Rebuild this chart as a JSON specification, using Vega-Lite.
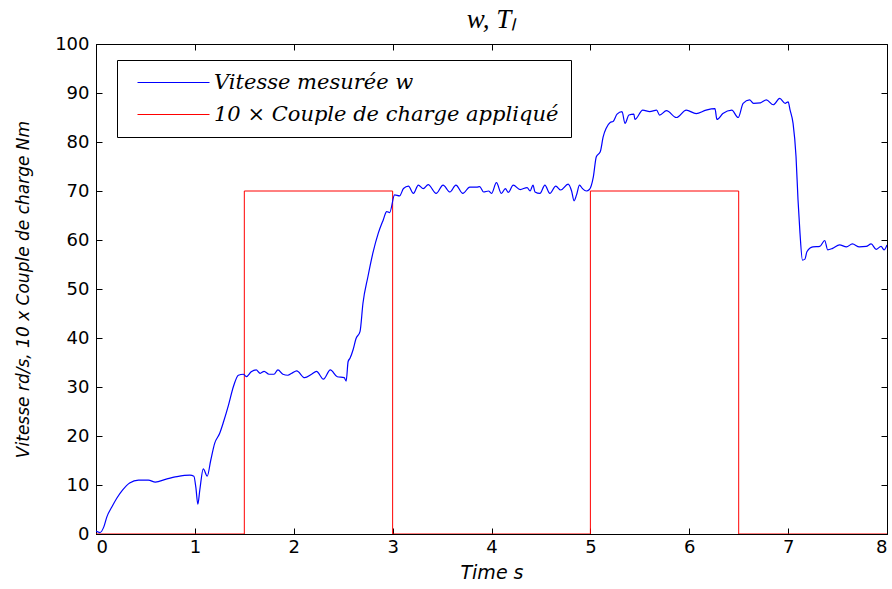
{
  "$schema": "https://vega.github.io/schema/vega-lite/v6.json",
  "width": 791,
  "height": 490,
  "autosize": {"type": "none"},
  "padding": {"left": 96, "top": 44, "right": 5, "bottom": 55},
  "background": "white",
  "title": {"text": "w,   Tₗ", "font": "Liberation Serif", "fontStyle": "italic", "fontWeight": "normal", "fontSize": 27, "color": "black", "anchor": "middle", "offset": 1},
  "config": {
    "view": {"stroke": "black", "strokeWidth": 1},
    "axis": {"domainColor": "black", "tickColor": "black", "labelColor": "black", "titleColor": "black", "grid": false, "labelFont": "DejaVu Sans", "labelFontSize": 18, "titleFont": "DejaVu Sans", "titleFontSize": 17, "titleFontStyle": "italic", "titleFontWeight": "normal", "tickSize": -6, "domainWidth": 1}
  },
  "datasets": {
    "w": [
      {"t":0.00,"v":0.6},{"t":0.04,"v":0.3},{"t":0.08,"v":1.5},{"t":0.11,"v":3.5},{"t":0.16,"v":5.5},{"t":0.21,"v":7.3},{"t":0.27,"v":9.0},{"t":0.34,"v":10.4},{"t":0.43,"v":11.0},{"t":0.53,"v":11.0},{"t":0.60,"v":10.6},{"t":0.71,"v":11.2},{"t":0.82,"v":11.7},{"t":0.95,"v":12.0},{"t":0.99,"v":11.8},{"t":1.01,"v":9.5},{"t":1.03,"v":6.1},{"t":1.05,"v":9.0},{"t":1.085,"v":13.3},{"t":1.125,"v":11.8},{"t":1.16,"v":15.0},{"t":1.20,"v":18.5},{"t":1.25,"v":20.5},{"t":1.29,"v":22.9},{"t":1.34,"v":26.3},{"t":1.39,"v":30.1},{"t":1.44,"v":32.4},{"t":1.49,"v":32.6},{"t":1.52,"v":32.1},{"t":1.57,"v":33.1},{"t":1.62,"v":33.5},{"t":1.66,"v":32.8},{"t":1.70,"v":33.2},{"t":1.75,"v":32.6},{"t":1.80,"v":32.6},{"t":1.84,"v":33.5},{"t":1.89,"v":32.6},{"t":1.94,"v":32.4},{"t":1.98,"v":32.8},{"t":2.03,"v":33.3},{"t":2.11,"v":31.9},{"t":2.18,"v":32.6},{"t":2.23,"v":33.2},{"t":2.30,"v":31.6},{"t":2.37,"v":33.5},{"t":2.44,"v":32.1},{"t":2.51,"v":31.9},{"t":2.53,"v":31.2},{"t":2.55,"v":35.2},{"t":2.57,"v":35.9},{"t":2.60,"v":37.6},{"t":2.63,"v":39.9},{"t":2.67,"v":41.3},{"t":2.70,"v":47.1},{"t":2.75,"v":52.5},{"t":2.80,"v":57.3},{"t":2.855,"v":61.4},{"t":2.905,"v":64.1},{"t":2.94,"v":65.8},{"t":2.97,"v":65.6},{"t":3.02,"v":69.2},{"t":3.07,"v":69.0},{"t":3.11,"v":70.5},{"t":3.16,"v":71.0},{"t":3.21,"v":69.5},{"t":3.26,"v":71.2},{"t":3.31,"v":70.5},{"t":3.36,"v":71.3},{"t":3.44,"v":69.5},{"t":3.51,"v":71.2},{"t":3.58,"v":69.8},{"t":3.64,"v":71.2},{"t":3.71,"v":69.5},{"t":3.78,"v":70.8},{"t":3.85,"v":70.8},{"t":3.88,"v":70.9},{"t":3.92,"v":69.8},{"t":3.97,"v":70.0},{"t":4.00,"v":69.5},{"t":4.05,"v":71.7},{"t":4.10,"v":69.5},{"t":4.14,"v":70.5},{"t":4.17,"v":69.7},{"t":4.22,"v":71.2},{"t":4.29,"v":70.3},{"t":4.36,"v":70.7},{"t":4.39,"v":70.0},{"t":4.42,"v":71.2},{"t":4.44,"v":69.8},{"t":4.49,"v":69.5},{"t":4.54,"v":71.2},{"t":4.59,"v":69.5},{"t":4.65,"v":71.0},{"t":4.70,"v":70.2},{"t":4.775,"v":71.4},{"t":4.81,"v":70.0},{"t":4.835,"v":68.0},{"t":4.86,"v":69.2},{"t":4.89,"v":71.2},{"t":4.92,"v":70.5},{"t":4.96,"v":70.0},{"t":4.99,"v":70.3},{"t":5.03,"v":72.9},{"t":5.06,"v":77.0},{"t":5.10,"v":78.0},{"t":5.13,"v":81.1},{"t":5.16,"v":82.8},{"t":5.20,"v":84.0},{"t":5.23,"v":84.2},{"t":5.27,"v":85.7},{"t":5.32,"v":86.2},{"t":5.35,"v":83.8},{"t":5.39,"v":85.5},{"t":5.44,"v":85.7},{"t":5.45,"v":84.6},{"t":5.53,"v":86.5},{"t":5.60,"v":86.2},{"t":5.67,"v":86.5},{"t":5.70,"v":85.5},{"t":5.77,"v":86.4},{"t":5.87,"v":85.0},{"t":5.97,"v":86.5},{"t":6.07,"v":85.8},{"t":6.17,"v":86.5},{"t":6.26,"v":86.8},{"t":6.28,"v":84.6},{"t":6.34,"v":85.8},{"t":6.43,"v":86.5},{"t":6.495,"v":85.0},{"t":6.545,"v":87.9},{"t":6.61,"v":88.6},{"t":6.65,"v":87.9},{"t":6.72,"v":88.0},{"t":6.78,"v":88.6},{"t":6.85,"v":87.6},{"t":6.915,"v":88.9},{"t":6.97,"v":87.9},{"t":7.00,"v":88.2},{"t":7.02,"v":86.5},{"t":7.05,"v":83.8},{"t":7.08,"v":77.0},{"t":7.10,"v":68.2},{"t":7.12,"v":61.4},{"t":7.145,"v":55.9},{"t":7.17,"v":56.1},{"t":7.19,"v":57.6},{"t":7.25,"v":58.6},{"t":7.32,"v":58.7},{"t":7.37,"v":59.9},{"t":7.40,"v":58.0},{"t":7.45,"v":58.3},{"t":7.52,"v":59.0},{"t":7.59,"v":58.6},{"t":7.65,"v":59.2},{"t":7.72,"v":58.6},{"t":7.79,"v":58.7},{"t":7.84,"v":59.2},{"t":7.89,"v":58.1},{"t":7.94,"v":58.7},{"t":7.97,"v":58.0},{"t":8.00,"v":59.0}
    ],
    "tl": [
      {"i":0,"t":0,"v":0},{"i":1,"t":1.5,"v":0},{"i":2,"t":1.5,"v":70},{"i":3,"t":3,"v":70},{"i":4,"t":3,"v":0},{"i":5,"t":5,"v":0},{"i":6,"t":5,"v":70},{"i":7,"t":6.5,"v":70},{"i":8,"t":6.5,"v":0},{"i":9,"t":8,"v":0}
    ]
  },
  "resolve": {"axis": {"x": "independent", "y": "independent"}},
  "layer": [
    {
      "data": {"name": "tl"},
      "transform": [{"calculate": "'10 × Couple de charge appliqué'", "as": "s"}],
      "mark": {"type": "line", "strokeWidth": 1, "clip": true},
      "encoding": {
        "x": {"field": "t", "type": "quantitative", "scale": {"domain": [0, 8], "nice": false}, "axis": {"orient": "top", "values": [0,1,2,3,4,5,6,7,8], "labels": false, "title": null, "domain": false}},
        "y": {"field": "v", "type": "quantitative", "scale": {"domain": [0, 100], "nice": false}, "axis": {"orient": "right", "values": [0,10,20,30,40,50,60,70,80,90,100], "labels": false, "title": null, "domain": false}},
        "order": {"field": "i"},
        "color": {"field": "s", "type": "nominal", "scale": {"domain": ["Vitesse mesurée w", "10 × Couple de charge appliqué"], "range": ["#0000ff", "#ff0000"]},
          "legend": {"orient": "none", "legendX": 21, "legendY": 16, "title": null, "symbolType": "M-18,0H18", "symbolSize": 16, "symbolOffset": 34, "symbolStrokeWidth": 1, "labelFont": "DejaVu Serif", "labelFontStyle": "italic", "labelFontSize": 21, "labelLimit": 600, "labelColor": "black", "labelOffset": 30, "padding": 12, "rowPadding": 10, "strokeColor": "black", "fillColor": "white", "cornerRadius": 0}}
      }
    },
    {
      "data": {"name": "w"},
      "transform": [{"calculate": "'Vitesse mesurée w'", "as": "s"}],
      "mark": {"type": "line", "strokeWidth": 1.2, "clip": true, "interpolate": "monotone"},
      "encoding": {
        "x": {"field": "t", "type": "quantitative", "scale": {"domain": [0, 8], "nice": false}, "axis": {"orient": "bottom", "values": [0,1,2,3,4,5,6,7,8], "title": "Time s", "titleFontSize": 19, "labelPadding": 10, "titlePadding": 7}},
        "y": {"field": "v", "type": "quantitative", "scale": {"domain": [0, 100], "nice": false}, "axis": {"orient": "left", "values": [0,10,20,30,40,50,60,70,80,90,100], "title": "Vitesse rd/s, 10 x Couple de charge Nm", "labelPadding": 13, "titlePadding": 22}},
        "order": {"field": "t"},
        "color": {"field": "s", "type": "nominal", "scale": {"domain": ["Vitesse mesurée w", "10 × Couple de charge appliqué"], "range": ["#0000ff", "#ff0000"]},
          "legend": {"orient": "none", "legendX": 21, "legendY": 16, "title": null, "symbolType": "M-18,0H18", "symbolSize": 16, "symbolOffset": 34, "symbolStrokeWidth": 1, "labelFont": "DejaVu Serif", "labelFontStyle": "italic", "labelFontSize": 21, "labelLimit": 600, "labelColor": "black", "labelOffset": 30, "padding": 12, "rowPadding": 10, "strokeColor": "black", "fillColor": "white", "cornerRadius": 0}}
      }
    }
  ]
}
